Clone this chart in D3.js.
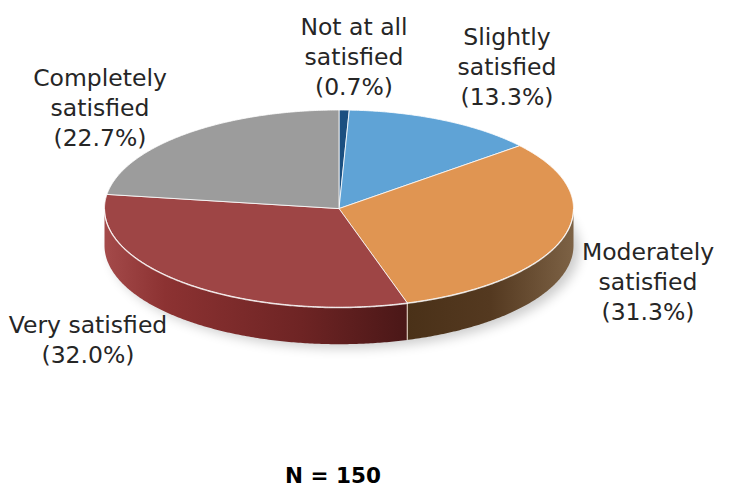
<!DOCTYPE html>
<html><head><meta charset="utf-8">
<script src="https://cdn.jsdelivr.net/npm/d3@7/dist/d3.min.js"></script>
<style>body{margin:0;background:#fff}svg{display:block}</style>
</head><body>
<svg id="c" width="744" height="502"></svg>
<script>
const categories = ["Not at all satisfied","Slightly satisfied","Moderately satisfied","Very satisfied","Completely satisfied"];
const labelLines = [["Not at all","satisfied"],["Slightly","satisfied"],["Moderately","satisfied"],["Very satisfied"],["Completely","satisfied"]];
const values = [0.7, 13.3, 31.3, 32.0, 22.7];
const topColors = ["#1B4F80","#5FA3D6","#E09552","#9E4545","#9C9C9C"];
const sideStops = [
  [["#10304f",0],["#10304f",1]],
  [["#3a6585",0],["#3a6585",1]],
  [["#4a3118",0],["#543920",0.5],["#7d6245",1]],
  [["#a44a4a",0],["#8c3232",0.2],["#6e2424",0.65],["#4a1717",1]],
  [["#5e5e5e",0],["#5e5e5e",1]]
];
const labelPos = [[354,35],[507,45],[648,260],[88,333],[100,86]];
const note = "N = 150";

const svg = d3.select("#c");
const cx = 339, cy = 208.6, rx = 234.5, ry = 98.6, depth = 37;
const defs = svg.append("defs");
defs.append("filter").attr("id","blur").attr("x","-20%").attr("y","-50%").attr("width","140%").attr("height","200%")
  .append("feGaussianBlur").attr("stdDeviation",6);

const pie = d3.pie().sort(null).value(d=>d)(values);
const px = a => cx + rx*Math.sin(a);
const py = a => cy - ry*Math.cos(a);

svg.append("ellipse").attr("cx",cx+6).attr("cy",cy+depth+4).attr("rx",rx).attr("ry",ry)
  .attr("fill","#000").attr("opacity",0.2).attr("filter","url(#blur)");

const line = d3.line();
pie.forEach((p,i)=>{
  const a0 = Math.max(p.startAngle, Math.PI/2), a1 = Math.min(p.endAngle, 3*Math.PI/2);
  if (a1 <= a0) return;
  const x0 = px(a1), x1 = px(a0);
  const g = defs.append("linearGradient").attr("id","sg"+i).attr("gradientUnits","userSpaceOnUse")
    .attr("x1",Math.min(x0,x1)).attr("x2",Math.max(x0,x1)).attr("y1",0).attr("y2",0);
  sideStops[i].forEach(s=>g.append("stop").attr("offset",s[1]).attr("stop-color",s[0]));
  const angs = d3.range(a0, a1, 0.01).concat([a1]);
  const pts = angs.map(a=>[px(a),py(a)]).concat(angs.slice().reverse().map(a=>[px(a),py(a)+depth]));
  svg.append("path").attr("d",line(pts)+"Z").attr("fill","url(#sg"+i+")");
  if (p.startAngle > Math.PI/2 && p.startAngle < 3*Math.PI/2) {
    svg.append("line").attr("x1",px(p.startAngle)).attr("x2",px(p.startAngle))
      .attr("y1",py(p.startAngle)).attr("y2",py(p.startAngle)+depth)
      .attr("stroke","#f4e4d4").attr("stroke-width",1);
  }
});

pie.forEach((p,i)=>{
  const angs = d3.range(p.startAngle, p.endAngle, 0.01).concat([p.endAngle]);
  const pts = [[cx,cy]].concat(angs.map(a=>[px(a),py(a)]));
  svg.append("path").attr("d",line(pts)+"Z").attr("fill",topColors[i])
    .attr("stroke","#ffffff").attr("stroke-width",1).attr("stroke-opacity",0.8).attr("stroke-linejoin","round");
});
{
  const angs = d3.range(Math.PI/2, 3*Math.PI/2, 0.01);
  svg.append("path").attr("d",line(angs.map(a=>[px(a),py(a)+0.5])))
    .attr("fill","none").attr("stroke","#fff").attr("stroke-opacity",0.75).attr("stroke-width",1.2);
}

const fmt = d3.format(".1f");
labelLines.forEach((lines,i)=>{
  const t = svg.append("text").attr("x",labelPos[i][0]).attr("y",labelPos[i][1])
    .attr("text-anchor","middle").attr("fill","#262626")
    .style("font-family","'DejaVu Sans', sans-serif").style("font-size","23.5px");
  lines.concat(["("+fmt(values[i])+"%)"]).forEach((l,j)=>{
    t.append("tspan").attr("x",labelPos[i][0]).attr("dy", j===0?0:30).text(l);
  });
});

svg.append("text").attr("x",333).attr("y",483).attr("text-anchor","middle")
  .attr("fill","#000").style("font-family","'DejaVu Sans', sans-serif").style("font-weight","bold").style("font-size","21.5px")
  .text(note);
</script>
</body></html>
